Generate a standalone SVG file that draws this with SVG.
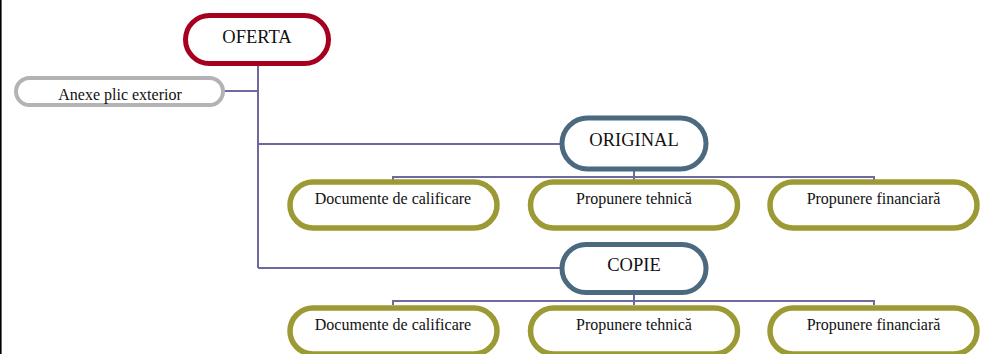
<svg xmlns="http://www.w3.org/2000/svg" width="985" height="354" viewBox="0 0 985 354">
<style>
.bg{fill:#ffffff}
.box{fill:#ffffff}
.red{stroke:#a6001f;stroke-width:5}
.gray{stroke:#b3b3b3;stroke-width:4}
.blue{stroke:#4b6a80;stroke-width:5}
.olive{stroke:#9c9a34;stroke-width:5.5}
.conn{fill:none;stroke:#6c6aa0;stroke-width:2}
.t{font-family:"Liberation Serif","Times New Roman",serif;fill:#111;text-anchor:middle}
.big{font-size:18.5px}
.small{font-size:16px}
</style>
<rect class="bg" x="0" y="0" width="985" height="354"/>
<line x1="0.8" y1="0" x2="0.8" y2="354" stroke="#000" stroke-width="1.6"/>
<g id="connectors">
<path class="conn" d="M258 66 V268 M224 91 H258 M258 144 H562 M258 268 H562"/>
<path class="conn" d="M634 170 V177 M393 181 V177 H874 V181 M634 177 V181"/>
<path class="conn" d="M634 294 V301 M393 305 V301 H874 V305 M634 301 V305"/>
</g>
<g id="oferta">
<rect class="box red" x="185.5" y="15.5" width="143" height="48" rx="24"/>
<text class="t big" x="257" y="43">OFERTA</text>
</g>
<g id="anexe">
<rect class="box gray" x="16" y="78" width="207" height="27" rx="13.5"/>
<text class="t small" x="120" y="100">Anexe plic exterior</text>
</g>
<g id="original">
<rect class="box blue" x="562" y="118" width="144" height="51" rx="25.5"/>
<text class="t big" x="634" y="146">ORIGINAL</text>
</g>
<g id="orig-doc">
<rect class="box olive" x="290" y="182" width="207" height="46" rx="23"/>
<text class="t small" x="393" y="204">Documente de calificare</text>
</g>
<g id="orig-teh">
<rect class="box olive" x="530.5" y="182" width="207" height="46" rx="23"/>
<text class="t small" x="634" y="204">Propunere tehnică</text>
</g>
<g id="orig-fin">
<rect class="box olive" x="770" y="182" width="207" height="46" rx="23"/>
<text class="t small" x="873.5" y="204">Propunere financiară</text>
</g>
<g id="copie">
<rect class="box blue" x="562" y="244.5" width="144" height="48" rx="24"/>
<text class="t big" x="634" y="271">COPIE</text>
</g>
<g id="copie-doc">
<rect class="box olive" x="290" y="308" width="207" height="46" rx="23"/>
<text class="t small" x="393" y="330">Documente de calificare</text>
</g>
<g id="copie-teh">
<rect class="box olive" x="530.5" y="308" width="207" height="46" rx="23"/>
<text class="t small" x="634" y="330">Propunere tehnică</text>
</g>
<g id="copie-fin">
<rect class="box olive" x="770" y="308" width="207" height="46" rx="23"/>
<text class="t small" x="873.5" y="330">Propunere financiară</text>
</g>
</svg>
